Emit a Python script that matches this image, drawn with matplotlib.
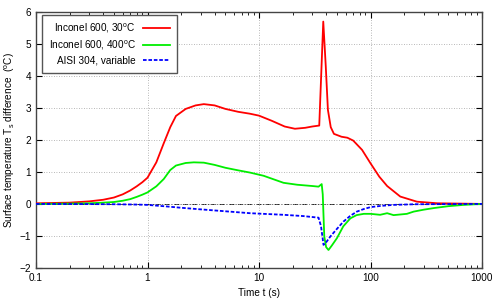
import matplotlib
matplotlib.use("Agg")
import matplotlib.pyplot as plt
from matplotlib.ticker import FixedLocator, FixedFormatter, LogLocator

plt.rcParams["font.family"] = ["Liberation Sans", "DejaVu Sans"]
plt.rcParams["mathtext.fontset"] = "custom"
plt.rcParams["mathtext.rm"] = "Liberation Sans"

# Inconel 600, 30 C
t_red = [0.1, 0.2, 0.3, 0.4, 0.5, 0.6, 0.7, 0.8, 0.9, 1.0, 1.2, 1.4, 1.6, 1.8,
         2.2, 2.7, 3.2, 4.0, 5.0, 6.5, 8.3, 10, 13, 17, 21, 26, 30, 34.7,
         37.7, 39.7, 41.5, 44, 47, 55, 62, 70, 84, 100, 120, 141, 185, 261,
         400, 1000]
v_red = [0.02, 0.04, 0.08, 0.13, 0.2, 0.3, 0.42, 0.55, 0.68, 0.82, 1.3, 1.9,
         2.4, 2.75, 2.97, 3.08, 3.12, 3.08, 2.97, 2.88, 2.82, 2.76, 2.6, 2.42,
         2.35, 2.38, 2.42, 2.45, 5.7, 4.3, 2.94, 2.4, 2.19, 2.1, 2.07, 1.98,
         1.69, 1.27, 0.85, 0.56, 0.23, 0.07, 0.02, 0.0]

# Inconel 600, 400 C
t_green = [0.1, 0.2, 0.3, 0.4, 0.5, 0.6, 0.7, 0.8, 0.9, 1.0, 1.2, 1.4, 1.6,
           1.8, 2.2, 2.6, 3.2, 4.0, 5.0, 6.5, 8.3, 11, 16.6, 22, 30, 34.2,
           36.5, 37.3, 38.5, 40, 42, 45, 50, 57, 66, 75, 87, 100, 122, 141,
           161, 185, 212, 244, 300, 369, 500, 686, 1000]
v_green = [0.0, 0.01, 0.02, 0.04, 0.06, 0.1, 0.15, 0.22, 0.29, 0.36, 0.55,
           0.78, 1.06, 1.2, 1.28, 1.30, 1.29, 1.22, 1.13, 1.05, 0.98, 0.88,
           0.66, 0.6, 0.56, 0.54, 0.62, 0.3, -1.02, -1.35, -1.44, -1.3, -1.07,
           -0.7, -0.45, -0.35, -0.31, -0.31, -0.34, -0.29, -0.35, -0.33,
           -0.31, -0.24, -0.18, -0.13, -0.07, -0.03, 0.0]

# AISI 304, variable
t_blue = [0.1, 0.3, 0.5, 0.8, 1.0, 1.5, 2.0, 3.0, 5.0, 8.3, 16.6, 25, 34.2,
          36, 37.9, 40, 43.6, 50, 57.3, 66, 75.5, 87, 100, 125, 161, 250,
          1000]
v_blue = [0.0, -0.005, -0.01, -0.02, -0.03, -0.08, -0.12, -0.17, -0.23,
          -0.29, -0.34, -0.38, -0.43, -0.7, -1.28, -1.2, -1.02, -0.78, -0.55,
          -0.37, -0.24, -0.16, -0.10, -0.06, -0.03, -0.01, 0.0]

x_ticks = [0.1, 1, 10, 100, 1000]
x_labels = ["0.1", "1", "10", "100", "1000"]
y_ticks = [-2, -1, 0, 1, 2, 3, 4, 5, 6]

fig = plt.figure(figsize=(5, 3), dpi=100)
ax = fig.add_axes([0.072, 0.107, 0.892, 0.853])

ax.axhline(0, color="black", lw=0.6, ls=(0, (6, 2, 1, 2)), zorder=1)
ax.plot(t_red, v_red, color="#ff0000", lw=1.3, label="Inconel 600, 30$^\\mathrm{o}$C", zorder=3)
ax.plot(t_green, v_green, color="#00ee00", lw=1.3, label="Inconel 600, 400$^\\mathrm{o}$C", zorder=3)
ax.plot(t_blue, v_blue, color="#0000ff", lw=1.3, ls=(0, (2, 1)), label="AISI 304, variable", zorder=4)

ax.set_xscale("log")
ax.set_xlim(0.1, 1000)
ax.set_ylim(-2, 6)
ax.xaxis.set_major_locator(FixedLocator(x_ticks))
ax.xaxis.set_major_formatter(FixedFormatter(x_labels))
ax.xaxis.set_minor_locator(LogLocator(base=10, subs=range(2, 10)))
ax.set_yticks(y_ticks)

ax.tick_params(which="both", direction="in", top=True, right=True, labelsize=7.2)
ax.tick_params(which="major", length=4, width=0.8)
ax.tick_params(which="minor", length=2, width=0.6)
ax.grid(True, which="major", color="#a0a0a0", lw=0.6, ls=(0, (1, 2)))

for s in ax.spines.values():
    s.set_linewidth(1.0)
    s.set_color("#444444")

ax.set_xlabel("Time t (s)", fontsize=7.2)
ax.set_ylabel("Surface temperature T$_\\mathrm{s}$ difference  ($^\\mathrm{o}$C)",
              fontsize=7.2, labelpad=2)

leg = ax.legend(loc="upper left", bbox_to_anchor=(0.013, 0.988), borderaxespad=0,
                markerfirst=False, fontsize=7.2, fancybox=False, framealpha=1,
                edgecolor="#555555", handlelength=2.7, handletextpad=0.7,
                borderpad=0.7, labelspacing=0.35)
leg.get_frame().set_linewidth(1.0)

fig.savefig("out.png", dpi=100)
